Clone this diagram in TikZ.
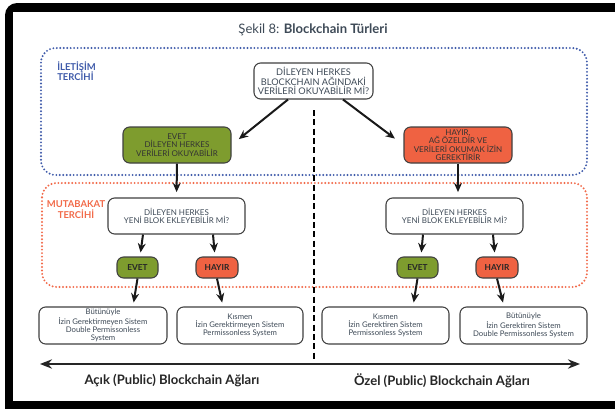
\documentclass[tikz,border=0pt]{standalone}
\usepackage{fontspec}
\setmainfont{Lato}
\usetikzlibrary{arrows.meta}
\definecolor{fblue}{HTML}{3F5BAA}
\definecolor{forange}{HTML}{F26B4A}
\definecolor{bgreen}{HTML}{7E9C2E}
\definecolor{borange}{HTML}{EF6242}
\definecolor{tgray}{HTML}{3E4A57}
\definecolor{bord}{HTML}{404040}
\tikzset{
  box/.style={draw=bord, line width=0.8pt, rounded corners=5pt, fill=white, align=center,
    text=tgray, inner sep=0pt, minimum width={#1*0.75pt}},
  qtext/.style={font=\fontsize{6.0}{6.3}\selectfont},
  btext/.style={font=\fontsize{5.8}{6}\selectfont},
  yn/.style={font=\bfseries\fontsize{6.2}{6.5}\selectfont, text=black!85},
  arr/.style={draw=black!90, line width=1.5pt, -{Stealth[length=7pt,width=6pt]}},
  dotbox/.style={line width=1.6pt, line cap=round, dash pattern=on 0pt off 2.6pt, rounded corners=11pt},
}
\begin{document}
\begin{tikzpicture}[x=0.75pt,y=-0.75pt]
\useasboundingbox (0,0) rectangle (615,408);
% frame
\begin{scope}
\clip (0,0) rectangle (615,408);
\fill[black, rounded corners=9pt] (5,3) rectangle (700,500);
\fill[white] (13,12) rectangle (700,401);
\end{scope}
% title
\node[text=tgray, font=\fontsize{9.8}{11}\selectfont] (title) at (313,30) {Şekil 8: \textbf{Blockchain Türleri}};
% dotted zones
\draw[dotbox, draw=fblue] (41,48) rectangle (587,175);
\draw[dotbox, draw=forange] (42,183) rectangle (587,287);
\node[anchor=north west, align=left, text=fblue, font=\bfseries\fontsize{7.1}{8.2}\selectfont, inner sep=0pt] (ilet) at (57,61) {İLETİŞİM\\TERCİHİ};
\node[align=center, text=forange, font=\bfseries\fontsize{7.1}{8.2}\selectfont, inner sep=0pt] (mutab) at (76,210) {MUTABAKAT\\TERCİHİ};
% dashed divider and axis
\coordinate (dvT) at (314,110);
\coordinate (dvB) at (314,362);
\draw[black, line width=1.8pt, dash pattern=on 4.5pt off 2.5pt] (dvT) -- (dvB);
\coordinate (axL) at (40,364);
\coordinate (axR) at (580,364);
\draw[black!85, line width=1.5pt, {Stealth[length=9pt,width=7pt]}-{Stealth[length=9pt,width=7pt]}] (axL) -- (axR);
% nodes
\node[box=119, minimum height={36*0.75pt}, font=\fontsize{6.9}{7.1}\selectfont] (top) at (313.5,81) {DİLEYEN HERKES\\BLOCKCHAIN AĞINDAKİ\\VERİLERİ OKUYABİLİR Mİ?};
\node[box=108, minimum height={36*0.75pt}, fill=bgreen, qtext, text=black!80] (green) at (177,145) {EVET\\DİLEYEN HERKES\\VERİLERİ OKUYABİLİR};
\node[box=108, minimum height={36*0.75pt}, fill=borange, qtext, text=black!80] (orange) at (458,145) {HAYIR,\\AĞ ÖZELDİR VE\\VERİLERİ OKUMAK İZİN\\GEREKTİRİR};
\node[box=137, minimum height={36*0.75pt}, qtext] (qL) at (176.5,216) {DİLEYEN HERKES\\YENİ BLOK EKLEYEBİLİR Mİ?};
\node[box=137, minimum height={36*0.75pt}, qtext] (qR) at (454.5,216) {DİLEYEN HERKES\\YENİ BLOK EKLEYEBİLİR Mİ?};
\node[box=41, minimum height={21*0.75pt}, fill=bgreen, yn] (eL) at (137.5,267.5) {EVET};
\node[box=42, minimum height={21*0.75pt}, fill=borange, yn] (hL) at (217,267.5) {HAYIR};
\node[box=41, minimum height={21*0.75pt}, fill=bgreen, yn] (eR) at (417.5,267.5) {EVET};
\node[box=42, minimum height={21*0.75pt}, fill=borange, yn] (hR) at (497,267.5) {HAYIR};
\node[box=128, minimum height={37*0.75pt}, btext] (b1) at (103,325.5) {Bütünüyle\\İzin Gerektirmeyen Sistem\\Double Permissonless\\System};
\node[box=126, minimum height={37*0.75pt}, btext] (b2) at (240,325.5) {Kısmen\\İzin Gerektirmeyen Sistem\\Permissonless System};
\node[box=127, minimum height={37*0.75pt}, btext] (b3) at (385.5,325.5) {Kısmen\\İzin Gerektiren Sistem\\Permissonless System};
\node[box=127, minimum height={37*0.75pt}, btext] (b4) at (523.5,325.5) {Bütünüyle\\İzin Gerektiren Sistem\\Double Permissonless System};
% bottom labels
\node[text=black!85, font=\bfseries\fontsize{9.8}{11}\selectfont] (lblL) at (172,381) {Açık (Public) Blockchain Ağları};
\node[text=black!85, font=\bfseries\fontsize{9.8}{11}\selectfont] (lblR) at (442,381) {Özel (Public) Blockchain Ağları};
% arrows
\draw[arr, shorten >=7pt] ([xshift=-25.5*0.75pt]top.south) -- (green.east);
\draw[arr, shorten >=8pt] ([xshift=29.5*0.75pt]top.south) -- (orange.west);
\draw[arr, shorten >=4pt] (green.south) -- (qL.north);
\draw[arr, shorten >=4pt] (orange.south) -- ([xshift=3.5*0.75pt]qR.north);
\draw[arr, shorten >=3pt] ([xshift=-33.5*0.75pt]qL.south) -- ([xshift=2.5*0.75pt]eL.north);
\draw[arr, shorten >=3pt] ([xshift=36.5*0.75pt]qL.south) -- ([xshift=-2*0.75pt]hL.north);
\draw[arr, shorten >=3pt] ([xshift=-31.5*0.75pt]qR.south) -- ([xshift=3.5*0.75pt]eR.north);
\draw[arr, shorten >=3pt] ([xshift=38.5*0.75pt]qR.south) -- ([xshift=-2*0.75pt]hR.north);
\draw[arr, shorten >=3pt] (eL.south) -- ([xshift=30*0.75pt]b1.north);
\draw[arr, shorten >=3pt] (hL.south) -- ([xshift=-17*0.75pt]b2.north);
\draw[arr, shorten >=3pt] (eR.south) -- ([xshift=27.5*0.75pt]b3.north);
\draw[arr, shorten >=3pt] (hR.south) -- ([xshift=-19.5*0.75pt]b4.north);
\end{tikzpicture}
\end{document}
